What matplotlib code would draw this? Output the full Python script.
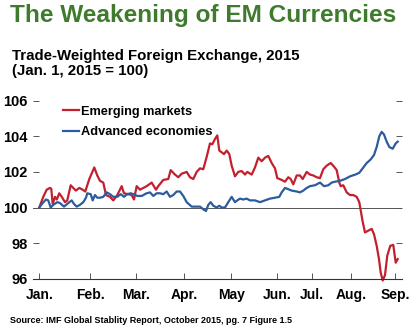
import matplotlib.pyplot as plt

# ---- data (x = position along the trading-day axis) ----
month_labels = ["Jan.", "Feb.", "Mar.", "Apr.", "May", "Jun.", "Jul.", "Aug.", "Sep."]
month_pos = [0, 51, 97, 145, 192, 238, 273, 312, 356]
y_ticks = [96, 98, 100, 102, 104, 106]

# Emerging markets: (x, index)
em_points = [
    (0, 100), (4, 100.6), (7.4, 101.0), (10.7, 101.1), (12, 101.05), (13.4, 100.2),
    (15.7, 100.6), (17.5, 100.45), (20, 100.8), (22.5, 100.6), (25.7, 100.3), (28, 100.4),
    (31.4, 101.25), (34, 101.1), (36.5, 100.95), (40, 101.1), (43.4, 101.0), (46, 100.9),
    (50, 101.6), (55, 102.25), (58, 101.8), (60.7, 101.5), (64, 101.4), (66.7, 100.7),
    (70.7, 100.6), (74, 100.4), (78, 100.7), (82.4, 101.2), (84.7, 100.8), (89, 100.75),
    (92.4, 100.7), (94.7, 100.45), (97.4, 101.2), (100.7, 101.0), (104, 101.1), (107.4, 101.2),
    (112.4, 101.4), (116.7, 101.0), (119, 101.2), (124, 101.55), (129, 101.6), (131.4, 102.1),
    (135.7, 101.85), (139, 101.7), (142.4, 101.9), (147.4, 102.0), (150.7, 101.7), (154, 101.6),
    (157.4, 102.0), (160.7, 102.2), (164, 102.15), (167.4, 102.85), (170.7, 103.6),
    (173, 103.55), (175.7, 103.85), (178, 104.05), (180, 103.2), (182.4, 103.1), (184.7, 103.0),
    (187.4, 103.2), (190, 103.0), (192.4, 102.35), (195.7, 101.75), (199, 102.0),
    (202.4, 102.05), (205.7, 101.85), (208, 102.0), (212.4, 101.85), (215.7, 102.25),
    (219, 102.8), (222.4, 102.6), (225.7, 102.8), (229, 102.9), (232.4, 102.5), (235.7, 102.2),
    (238, 101.65), (242.4, 101.55), (245.7, 101.45), (249, 101.7), (251.4, 101.6), (254, 101.3),
    (257.4, 101.8), (260.7, 101.8), (263.4, 101.6), (267.4, 102.0), (270.7, 101.85),
    (274, 101.8), (277.4, 101.7), (280.7, 101.65), (284, 102.15), (287.4, 102.35),
    (291.4, 102.5), (294.7, 102.3), (297.4, 102.1), (300, 101.4), (301.4, 101.2),
    (304, 101.25), (307.4, 100.85), (310.7, 100.7), (314, 100.7), (317.4, 100.6), (320, 100.3),
    (323.4, 99.2), (325.7, 98.6), (329, 98.7), (332.4, 98.8), (334.7, 98.5), (337.4, 97.85),
    (339.7, 97.1), (341.4, 96.35), (343.4, 95.9), (345.7, 96.2), (348, 97.3), (351, 97.85),
    (354, 97.9), (356.4, 96.9), (358.4, 97.1),
]

# Advanced economies: (x, index)
ae_points = [
    (0, 100), (3.4, 100.25), (6.7, 100.45), (9, 100.4), (11.4, 100.0), (14, 100.15),
    (18, 100.3), (20.7, 100.25), (24.7, 100.05), (29, 100.25), (32.4, 100.4), (34.7, 100.2),
    (37.4, 100.05), (40.7, 100.15), (44, 100.3), (46.7, 100.55), (48, 100.8), (51.4, 100.75),
    (53.4, 100.4), (55.7, 100.7), (58, 100.55), (60.7, 100.55), (64, 100.6), (67.4, 100.85),
    (70.7, 100.75), (74, 100.6), (78, 100.6), (81.4, 100.75), (84.7, 100.6), (88, 100.75),
    (91.4, 100.8), (94, 100.75), (98, 100.65), (102.4, 100.65), (107.4, 100.8), (110.7, 100.85),
    (114, 100.65), (117.4, 100.8), (120.7, 100.8), (124, 100.75), (127.4, 100.9), (130.7, 100.6),
    (134, 100.7), (137.4, 100.9), (140.7, 100.9), (144, 100.65), (147.4, 100.3), (152.4, 100.05),
    (157.4, 100.05), (160.7, 100.05), (164, 99.9), (166.7, 99.8), (169, 100.15), (171.4, 100.3),
    (174, 100.1), (177.4, 100.0), (180, 100.1), (182.4, 100.0), (185.7, 100.0), (189, 100.3),
    (192.4, 100.6), (195.7, 100.3), (198, 100.4), (200.7, 100.5), (204, 100.45), (207.4, 100.5),
    (210.7, 100.4), (215.7, 100.4), (220.7, 100.3), (225.7, 100.4), (230.7, 100.5),
    (235.7, 100.55), (240, 100.6), (242.4, 100.85), (245.7, 101.1), (248, 101.05),
    (252.4, 100.95), (257.4, 100.9), (260.7, 100.85), (264, 100.95), (267.4, 101.1),
    (270.7, 101.2), (275.7, 101.25), (280.7, 101.4), (284.7, 101.2), (289, 101.25),
    (292.4, 101.4), (295.7, 101.45), (300.7, 101.5), (305.7, 101.6), (310.7, 101.75),
    (316, 101.85), (320, 101.95), (323.4, 102.2), (327.4, 102.5), (331.4, 102.7),
    (334.7, 102.95), (337.4, 103.4), (340, 104.0), (342.4, 104.25), (344.7, 104.1),
    (347.4, 103.7), (350, 103.4), (353.4, 103.3), (356.4, 103.6), (358.4, 103.7),
]

RED = "#c3202e"
BLUE = "#2d5c9c"
GREEN = "#3e7b2c"

plt.rcParams['font.family'] = ['Liberation Sans Narrow', 'Liberation Sans', 'DejaVu Sans']
plt.rcParams['font.weight'] = 'bold'

fig = plt.figure(figsize=(4.16, 3.35), dpi=100)
ax = fig.add_axes([0.080, 0.168, 0.8856, 0.5314])

em_x, em_y = zip(*em_points)
ae_x, ae_y = zip(*ae_points)
ax.plot(em_x, em_y, color=RED, lw=1.6, clip_on=False, label="Emerging markets")
ax.plot(ae_x, ae_y, color=BLUE, lw=1.6, clip_on=False, label="Advanced economies")
ax.axhline(100, color="#555555", lw=0.7, zorder=0)

ax.set_xlim(-6, 362.4)
ax.set_ylim(96, 106)
ax.set_xticks(month_pos)
ax.set_xticklabels(month_labels)
ax.set_yticks(y_ticks)
ax.set_yticklabels([str(v) for v in y_ticks])

for side in ["top", "left", "right"]:
    ax.spines[side].set_visible(False)
ax.spines["bottom"].set_linewidth(0.8)
ax.spines["bottom"].set_color("#333333")

ax.tick_params(axis="x", direction="in", length=4, width=0.7, color="#555555",
               labelsize=10, pad=7)
ax.tick_params(axis="y", direction="in", length=4, width=0.7, color="#555555",
               labelsize=10.5, pad=4, right=True)

ax.legend(loc="upper left", bbox_to_anchor=(0.08, 0.972), frameon=False,
          borderaxespad=0, borderpad=0,
          handlelength=1.25, handletextpad=0.2, labelspacing=0.66,
          prop={'size': 9.2, 'weight': 'bold'})

fig.text(0.024, 0.935, "The Weakening of EM Currencies", color=GREEN,
         fontsize=17.6, weight="bold")
fig.text(0.029, 0.775, "Trade-Weighted Foreign Exchange, 2015\n(Jan. 1, 2015 = 100)",
         fontsize=10.8, weight="bold", family=['Liberation Sans', 'DejaVu Sans'],
         linespacing=1.15)
fig.text(0.024, 0.035, "Source: IMF Global Stablity Report, October 2015, pg. 7 Figure 1.5",
         fontsize=6.5, weight="bold")

fig.savefig("out.png", dpi=100)
